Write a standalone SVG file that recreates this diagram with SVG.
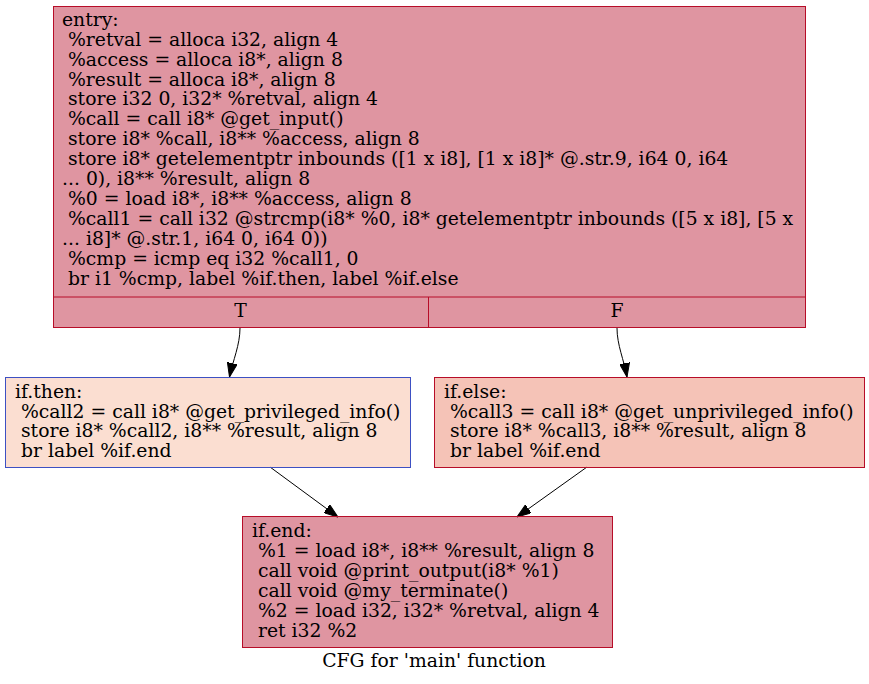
<svg xmlns="http://www.w3.org/2000/svg" width="869" height="684" viewBox="0 0 869 684" xml:space="preserve">
<style>
text{font-family:"DejaVu Serif","Liberation Serif",serif;font-size:18.8px;fill:#000;white-space:pre}
.red{stroke:#b70d28;stroke-width:1}
.blue{stroke:#3d50c3;stroke-width:1}
.e{fill:none;stroke:#000;stroke-width:1}
</style>
<defs>
<marker id="ah" markerUnits="userSpaceOnUse" markerWidth="14" markerHeight="10" refX="14" refY="5" orient="auto" viewBox="0 0 14 10">
<path d="M0,0 L14,5 L0,10 z" fill="#000" stroke="#000"/>
</marker>
</defs>
<rect width="869" height="684" fill="#fff"/>
<g id="connectors">
<path class="e" d="M240,328 C240,345 233,360 229.5,377" marker-end="url(#ah)"/>
<path class="e" d="M617,328 C617,345 624,360 627,377" marker-end="url(#ah)"/>
<path class="e" d="M270,467 L338,517" marker-end="url(#ah)"/>
<path class="e" d="M587,467 L517,517" marker-end="url(#ah)"/>
</g>
<g id="entry">
<rect x="53.5" y="6.5" width="752" height="321" fill="#b70d28" fill-opacity="0.439" class="red"/>
<line x1="53.5" y1="297" x2="805.5" y2="297" class="red"/>
<line x1="428.5" y1="297" x2="428.5" y2="327.5" class="red"/>
<text x="62" y="26">entry:</text>
<text x="62" y="46"> %retval = alloca i32, align 4</text>
<text x="62" y="66"> %access = alloca i8*, align 8</text>
<text x="62" y="86"> %result = alloca i8*, align 8</text>
<text x="62" y="105"> store i32 0, i32* %retval, align 4</text>
<text x="62" y="125"> %call = call i8* @get_input()</text>
<text x="62" y="145"> store i8* %call, i8** %access, align 8</text>
<text x="62" y="165"> store i8* getelementptr inbounds ([1 x i8], [1 x i8]* @.str.9, i64 0, i64</text>
<text x="62" y="185">... 0), i8** %result, align 8</text>
<text x="62" y="205"> %0 = load i8*, i8** %access, align 8</text>
<text x="62" y="225"> %call1 = call i32 @strcmp(i8* %0, i8* getelementptr inbounds ([5 x i8], [5 x</text>
<text x="62" y="245">... i8]* @.str.1, i64 0, i64 0))</text>
<text x="62" y="265"> %cmp = icmp eq i32 %call1, 0</text>
<text x="62" y="285"> br i1 %cmp, label %if.then, label %if.else</text>
<text x="240.5" y="317" text-anchor="middle">T</text>
<text x="617" y="317" text-anchor="middle">F</text>
</g>
<g id="if.then">
<rect x="5.5" y="377.5" width="405" height="90" fill="#f7b396" fill-opacity="0.439" class="blue"/>
<text x="15" y="398">if.then:</text>
<text x="15" y="418"> %call2 = call i8* @get_privileged_info()</text>
<text x="15" y="437"> store i8* %call2, i8** %result, align 8</text>
<text x="15" y="457"> br label %if.end</text>
</g>
<g id="if.else">
<rect x="434.5" y="377.5" width="430" height="90" fill="#e8765c" fill-opacity="0.439" class="red"/>
<text x="444" y="398">if.else:</text>
<text x="444" y="418"> %call3 = call i8* @get_unprivileged_info()</text>
<text x="444" y="437"> store i8* %call3, i8** %result, align 8</text>
<text x="444" y="457"> br label %if.end</text>
</g>
<g id="if.end">
<rect x="242.5" y="516.5" width="370" height="131" fill="#b70d28" fill-opacity="0.439" class="red"/>
<text x="252" y="537">if.end:</text>
<text x="252" y="557"> %1 = load i8*, i8** %result, align 8</text>
<text x="252" y="577"> call void @print_output(i8* %1)</text>
<text x="252" y="597"> call void @my_terminate()</text>
<text x="252" y="617"> %2 = load i32, i32* %retval, align 4</text>
<text x="252" y="637"> ret i32 %2</text>
</g>
<text x="434" y="667" text-anchor="middle">CFG for 'main' function</text>
</svg>
